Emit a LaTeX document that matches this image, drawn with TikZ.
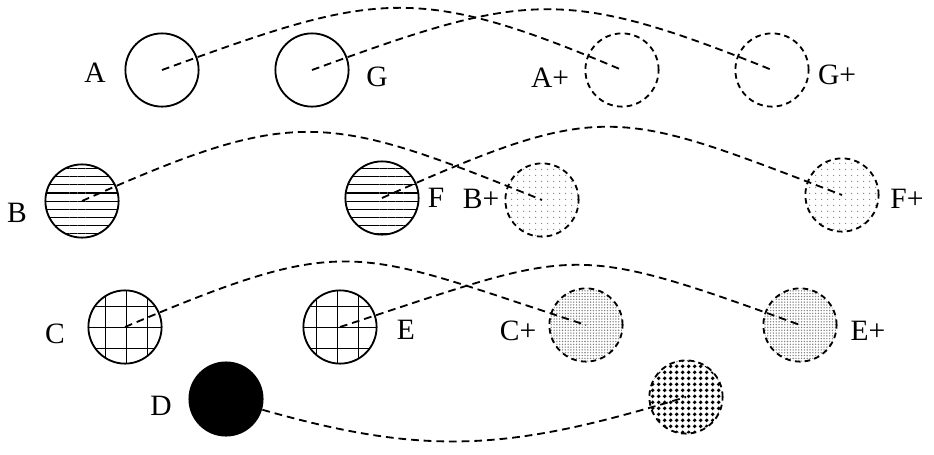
\documentclass[tikz,border=0pt]{standalone}
\usepackage{fontspec}
\setmainfont{Liberation Serif}
\usetikzlibrary{patterns.meta}

\begin{document}
\begin{tikzpicture}[x=0.025cm,y=-0.025cm,
  ball/.style={circle,draw,line width=1.3pt,minimum size=1.83cm,inner sep=0pt},
  ghost/.style={ball,dash pattern=on 4pt off 3pt},
  tag/.style={anchor=base,font=\fontsize{21pt}{24pt}\selectfont},
  link/.style={line width=1.3pt,dash pattern=on 5.5pt off 3.5pt}]
  \useasboundingbox (0,0) rectangle (934,454);

  % top row: plain
  \node[ball]  (a)  at (162,70) {};
  \node[ball]  (g)  at (312,70) {};
  \node[ghost] (ap) at (622,70) {};
  \node[ghost] (gp) at (772,70) {};

  % second row: lines
  \node[ball,pattern={Lines[angle=0,distance=5.8pt,line width=0.8pt]}] (b) at (82,201) {};
  \node[ball,pattern={Lines[angle=0,distance=5.8pt,line width=0.8pt]}] (f) at (382,198) {};
  \node[ghost,pattern={Dots[distance=4pt,radius=0.5pt]},pattern color=gray] (bp) at (542,200) {};
  \node[ghost,pattern={Dots[distance=4pt,radius=0.5pt]},pattern color=gray] (fp) at (842,195) {};

  % third row: grid
  \node[ball,pattern={Hatch[angle=0,distance=15pt,line width=1pt]}] (c) at (125,327) {};
  \node[ball,pattern={Hatch[angle=0,distance=15pt,line width=1pt]}] (e) at (340,327) {};
  \node[ghost,pattern={Dots[distance=2pt,radius=0.55pt]},pattern color=gray] (cp) at (586,325) {};
  \node[ghost,pattern={Dots[distance=2pt,radius=0.55pt]},pattern color=gray] (ep) at (800,325) {};

  \node[ball,fill=black] (d) at (226,399) {};
  \node[ghost,pattern={Dots[distance=4pt,radius=1.5pt]}] (dp) at (686,397) {};

  \node[tag] (la)  at (95,82)   {A};
  \node[tag] (lg)  at (377,86)  {G};
  \node[tag] (lap) at (550,87)  {A+};
  \node[tag] (lgp) at (837,84)  {G+};
  \node[tag] (lb)  at (17,222)  {B};
  \node[tag] (lf)  at (436,207) {F};
  \node[tag] (lbp) at (481,208) {B+};
  \node[tag] (lfp) at (907,208) {F+};
  \node[tag] (lc)  at (55,343)  {C};
  \node[tag] (le)  at (406,339) {E};
  \node[tag] (lcp) at (518,340) {C+};
  \node[tag] (lep) at (868,340) {E+};
  \node[tag] (ld)  at (161,415) {D};

  \draw[link] (a.center) to[out=20,in=157,looseness=1.26] (ap.center);
  \draw[link] (g.center) to[out=20,in=158,looseness=1.26] (gp.center);
  \draw[link] (b.center) to[out=24,in=158,looseness=1.3] (bp.center);
  \draw[link] (f.center) to[out=24,in=159,looseness=1.35] (fp.center);
  \draw[link] (c.center) to[out=23,in=162,looseness=1.36] (cp.center);
  \draw[link] (e.center) to[out=18,in=160,looseness=1.39] (ep.center);
  \draw[link] (d.center) to[out=-17,in=-163,looseness=1.1] (dp.center);
\end{tikzpicture}
\end{document}
